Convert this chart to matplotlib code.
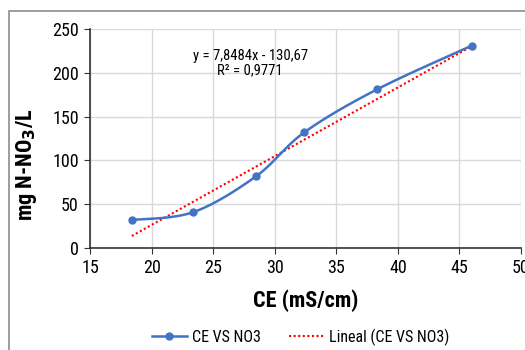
import numpy as np
import matplotlib
matplotlib.use("Agg")
import matplotlib.pyplot as plt
from matplotlib.patches import Rectangle

plt.rcParams['font.family'] = ['Roboto Condensed', 'Liberation Sans Narrow', 'Liberation Sans', 'DejaVu Sans']

ce = [18.4, 23.4, 28.5, 32.4, 38.3, 46.0]
no3 = [32, 41, 82, 132, 181, 231]
slope = 7.8484
intercept = -130.67
eq_text = "y = 7,8484x - 130,67\nR² = 0,9771"
x_ticks = [15, 20, 25, 30, 35, 40, 45, 50]
y_ticks = [0, 50, 100, 150, 200, 250]


def smooth(xs, ys, n=30):
    # Excel-style smoothed line: cubic bezier with catmull-rom control points
    xs = np.asarray(xs, float)
    ys = np.asarray(ys, float)
    px = np.concatenate([[xs[0]], xs, [xs[-1]]])
    py = np.concatenate([[ys[0]], ys, [ys[-1]]])
    outx, outy = [], []
    t = np.linspace(0, 1, n)
    for i in range(1, len(px) - 2):
        p0 = np.array([px[i], py[i]])
        p3 = np.array([px[i + 1], py[i + 1]])
        c1 = p0 + (p3 - np.array([px[i - 1], py[i - 1]])) / 6
        c2 = p3 - (np.array([px[i + 2], py[i + 2]]) - p0) / 6
        b = ((1 - t) ** 3)[:, None] * p0 + (3 * (1 - t) ** 2 * t)[:, None] * c1 \
            + (3 * (1 - t) * t ** 2)[:, None] * c2 + (t ** 3)[:, None] * p3
        outx.extend(b[:, 0])
        outy.extend(b[:, 1])
    return outx, outy


fig = plt.figure(figsize=(5.25, 3.5), dpi=100)
fig.patches.append(Rectangle((9 / 525, -0.1), 1.2, 1 - 11 / 350 + 0.1,
                             transform=fig.transFigure, fill=False,
                             edgecolor="#8c8c8c", linewidth=1.2))
ax = fig.add_axes([90 / 525, 1 - 248 / 350, 431 / 525, 219 / 350])

sx, sy = smooth(ce, no3)
ax.plot(sx, sy, color="#4472c4", linewidth=1.8, zorder=3)
ax.plot(ce, no3, "o", color="#4472c4", markersize=5, zorder=4)
tx = np.array([ce[0], ce[-1]])
trend, = ax.plot(tx, slope * tx + intercept, color="#ff0000", linestyle=(0, (1, 1.2)),
                 linewidth=1.5, zorder=2)

ax.set_xlim(15, 50)
ax.set_ylim(0, 250)
ax.set_xticks(x_ticks)
ax.set_yticks(y_ticks)
ax.grid(True, color="#d9d9d9", linewidth=1)
ax.set_axisbelow(True)
for s in ["top", "right"]:
    ax.spines[s].set_visible(False)
for s in ["left", "bottom"]:
    ax.spines[s].set_color("#333333")
    ax.spines[s].set_linewidth(1.2)
ax.tick_params(labelsize=13, length=4, color="#333333", pad=4)

ax.set_xlabel("CE (mS/cm)", fontsize=16, fontweight="bold", labelpad=9)
ax.set_ylabel("mg N-NO$_\\mathbf{3}$/L", fontsize=16, fontweight="bold")
ax.yaxis.set_label_coords(-0.118, 0.38)

ax.text(28.0, 211, eq_text, ha="center", va="center", fontsize=10.5, linespacing=1.05)

leg_marker, = ax.plot([], [], color="#4472c4", linewidth=1.8, marker="o", markersize=5)
fig.legend([leg_marker, trend], ["CE VS NO3", "Lineal (CE VS NO3)"],
           loc="center", bbox_to_anchor=(0.573, 1 - 337 / 350), ncol=2,
           frameon=False, fontsize=11.5, handlelength=2.2, columnspacing=1.8,
           handletextpad=0.3)

fig.savefig("out.png", dpi=100)
